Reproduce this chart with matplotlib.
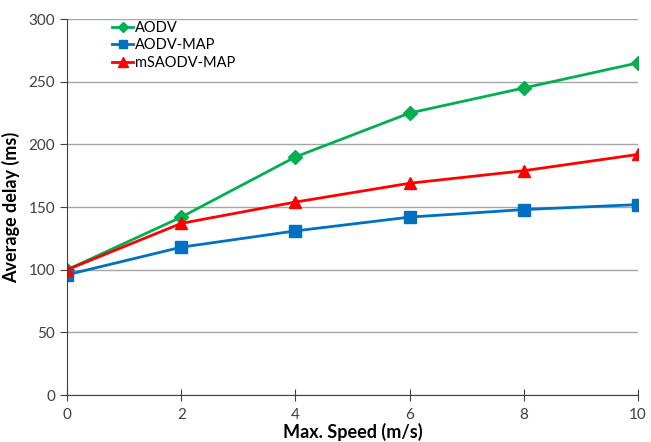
import numpy as np
import matplotlib.pyplot as plt

plt.rcParams['font.family'] = ['Lato', 'DejaVu Sans']

speed = [0, 2, 4, 6, 8, 10]
aodv = [100, 142, 190, 225, 245, 265]
aodv_map = [96, 118, 131, 142, 148, 152]
msaodv_map = [100, 137, 154, 169, 179, 192]

fig = plt.figure(figsize=[6.51, 4.42], dpi=100)
ax = fig.add_axes([0.103, 0.106, 0.877, 0.851])

ax.plot(speed, aodv, color='#00b050', marker='D', markersize=7, lw=2, label='AODV')
ax.plot(speed, aodv_map, color='#0070c0', marker='s', markersize=8, lw=2, label='AODV-MAP')
ax.plot(speed, msaodv_map, color='#ff0000', marker='^', markersize=9, lw=2, label='mSAODV-MAP')

ax.set_xlim(0, 10)
ax.set_ylim(0, 300)
ax.set_xticks(np.arange(0, 11, 2))
ax.set_yticks(np.arange(0, 301, 50))
ax.yaxis.grid(True, color='#a6a6a6', lw=1)
ax.set_axisbelow(True)
for s in ['top', 'right']:
    ax.spines[s].set_visible(False)
ax.spines['left'].set_color('#404040')
ax.spines['bottom'].set_color('#404040')
ax.tick_params(axis='y', direction='out', length=5, colors='#404040', labelsize=11)
ax.tick_params(axis='x', direction='inout', length=8, colors='#404040', labelsize=11, pad=5)
ax.set_xlabel('Max. Speed (m/s)', fontsize=13, fontweight='bold', labelpad=1)
ax.set_ylabel('Average delay (ms)', fontsize=13, fontweight='bold', labelpad=6)

ax.legend(loc='upper left', bbox_to_anchor=(0.055, 1.03), frameon=False, fontsize=10.5,
          handlelength=1.5, handletextpad=0.1, labelspacing=0.25, markerscale=0.8)

fig.savefig('out.png', dpi=100)
